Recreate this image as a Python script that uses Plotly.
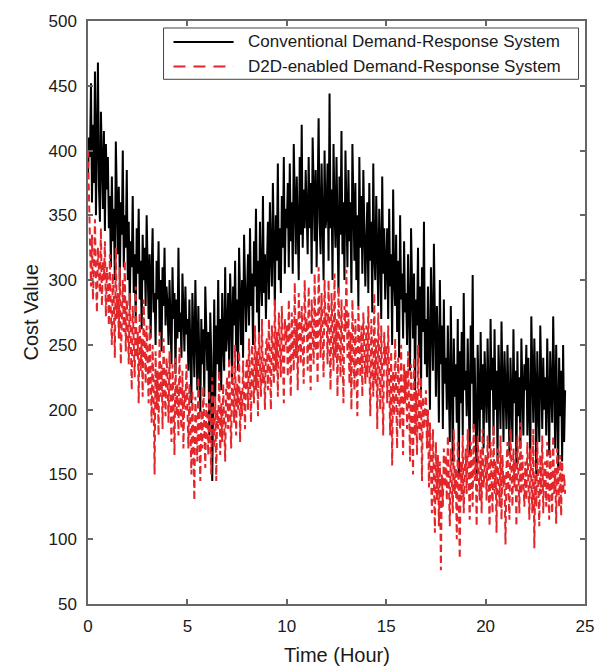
import plotly.graph_objects as go

# Cost values sampled every 0.05 hour from 0 to 24 h (20 samples per hour)
conventional_cost = [
    380, 410, 395, 452, 360, 420, 375, 461, 350, 400, 468, 372, 345, 430, 390, 355, 415, 338, 405, 370,
    395, 340, 365, 310, 380, 330, 355, 300, 407, 345, 320, 372, 295, 360, 335, 400, 310, 350, 325, 385,
    300, 345, 280, 330, 310, 365, 290, 320, 270, 340, 305, 355, 285, 315, 262, 335, 300, 325, 280, 350,
    295, 270, 320, 255, 305, 340, 275, 290, 250, 315, 285, 330, 260, 300, 245, 310, 280, 325, 265, 295,
    280, 250, 300, 265, 235, 310, 270, 290, 228, 285, 255, 325, 260, 275, 240, 305, 265, 245, 295, 258,
    270, 230, 285, 245, 205, 290, 255, 225, 300, 240, 215, 280, 250, 198, 270, 235, 262, 210, 295, 245,
    230, 260, 180, 275, 240, 145, 250, 285, 210, 265, 235, 300, 225, 270, 215, 290, 250, 230, 310, 245,
    260, 290, 235, 305, 275, 220, 295, 265, 315, 245, 285, 230, 325, 270, 250, 300, 240, 335, 280, 260,
    290, 320, 265, 340, 280, 305, 250, 330, 295, 355, 275, 315, 260, 345, 300, 280, 365, 290, 320, 270,
    310, 345, 285, 360, 320, 295, 375, 330, 280, 350, 315, 390, 300, 340, 290, 365, 325, 395, 305, 355,
    340, 375, 310, 390, 330, 360, 305, 405, 345, 320, 380, 350, 300, 395, 335, 420, 325, 370, 340, 385,
    360, 320, 395, 340, 375, 305, 410, 350, 330, 385, 310, 365, 425, 345, 320, 390, 355, 300, 400, 340,
    350, 390, 315, 444, 340, 370, 300, 405, 355, 325, 395, 345, 290, 380, 335, 415, 320, 360, 300, 400,
    345, 310, 385, 330, 360, 290, 405, 340, 315, 375, 300, 350, 280, 395, 325, 365, 305, 385, 335, 295,
    330, 360, 290, 375, 315, 345, 275, 390, 320, 300, 365, 310, 280, 355, 325, 270, 380, 305, 340, 285,
    310, 340, 270, 355, 295, 320, 250, 370, 300, 280, 335, 260, 315, 240, 350, 285, 305, 255, 330, 275,
    290, 250, 320, 270, 230, 340, 280, 255, 305, 215, 285, 265, 325, 240, 295, 210, 310, 260, 345, 235,
    270, 225, 295, 245, 200, 310, 255, 230, 328, 240, 210, 280, 250, 190, 300, 235, 265, 185, 285, 220,
    240, 200, 265, 215, 175, 280, 225, 160, 255, 210, 235, 190, 270, 148, 245, 205, 260, 180, 290, 215,
    230, 195, 255, 210, 165, 265, 220, 304, 185, 240, 205, 145, 250, 215, 175, 260, 200, 235, 170, 245,
    225, 190, 255, 205, 170, 270, 215, 240, 180, 262, 200, 230, 160, 250, 210, 185, 268, 220, 175, 245,
    220, 185, 250, 200, 165, 240, 215, 175, 262, 205, 230, 155, 245, 195, 225, 170, 255, 210, 180, 235,
    215, 250, 180, 240, 200, 160, 272, 210, 190, 255, 220, 150, 245, 205, 175, 265, 215, 185, 240, 200,
    225, 180, 255, 200, 165, 245, 210, 190, 272, 205, 170, 250, 215, 155, 240, 195, 230, 160, 250, 175,
    215,
]

d2d_cost = [
    400, 360, 320, 295, 335, 285, 310, 347, 300, 275, 325, 305, 290, 340, 280, 315, 300, 330, 272, 310,
    295, 265, 320, 275, 250, 305, 285, 240, 325, 270, 290, 255, 310, 235, 280, 300, 260, 315, 245, 285,
    265, 235, 290, 250, 215, 280, 245, 225, 295, 240, 260, 205, 275, 230, 255, 210, 285, 240, 220, 265,
    240, 205, 265, 225, 190, 250, 215, 150, 245, 200, 230, 180, 260, 210, 235, 185, 255, 220, 195, 240,
    225, 190, 245, 205, 175, 235, 210, 165, 240, 195, 220, 180, 248, 200, 185, 230, 170, 215, 200, 235,
    205, 170, 220, 185, 150, 215, 175, 130, 210, 190, 160, 225, 180, 145, 200, 170, 218, 185, 155, 205,
    195, 165, 215, 180, 150, 225, 190, 170, 210, 145, 200, 185, 230, 165, 205, 175, 220, 190, 160, 215,
    225, 185, 240, 200, 170, 235, 210, 190, 250, 180, 220, 200, 245, 175, 215, 195, 238, 205, 185, 230,
    240, 200, 255, 220, 190, 250, 230, 205, 265, 215, 245, 195, 260, 225, 210, 270, 220, 240, 200, 250,
    255, 215, 270, 235, 200, 265, 245, 220, 285, 230, 260, 210, 275, 240, 225, 280, 235, 205, 270, 250,
    265, 225, 285, 245, 210, 275, 255, 230, 298, 240, 270, 215, 290, 250, 235, 280, 245, 220, 300, 260,
    270, 230, 295, 250, 215, 285, 260, 235, 305, 245, 275, 220, 310, 255, 240, 290, 250, 225, 300, 265,
    275, 235, 300, 250, 215, 290, 255, 230, 305, 240, 270, 210, 295, 250, 225, 285, 245, 205, 280, 260,
    308, 240, 275, 220, 260, 200, 285, 245, 215, 270, 235, 195, 280, 250, 225, 265, 210, 275, 240, 220,
    265, 225, 280, 235, 195, 270, 240, 210, 290, 220, 255, 185, 275, 230, 200, 265, 225, 180, 260, 235,
    250, 205, 265, 220, 180, 245, 157, 230, 195, 255, 210, 170, 240, 215, 185, 250, 200, 165, 235, 205,
    230, 185, 245, 200, 160, 235, 195, 150, 240, 180, 215, 165, 250, 190, 175, 225, 145, 210, 185, 200,
    215, 170, 200, 140, 190, 155, 120, 185, 150, 105, 175, 130, 165, 110, 160, 76, 150, 125, 170, 140,
    165, 130, 180, 145, 110, 170, 140, 120, 185, 135, 155, 100, 175, 140, 85, 160, 130, 180, 120, 150,
    170, 135, 185, 150, 115, 175, 140, 125, 190, 145, 160, 110, 180, 150, 130, 170, 120, 185, 140, 155,
    165, 130, 180, 145, 110, 175, 140, 120, 188, 135, 160, 105, 170, 145, 125, 180, 115, 165, 140, 150,
    96, 155, 175, 135, 115, 185, 145, 125, 170, 140, 160, 110, 180, 150, 120, 190, 135, 165, 145, 125,
    160, 130, 175, 140, 115, 170, 145, 120, 185, 93, 150, 125, 175, 140, 110, 165, 135, 180, 120, 155,
    160, 125, 175, 140, 115, 170, 145, 120, 180, 135, 155, 112, 170, 140, 125, 165, 118, 160, 135, 150,
    135,
]

# sampling times (hours): 0.05 h step
time_conv = [i * 0.05 for i in range(len(conventional_cost))]
time_d2d = [i * 0.05 for i in range(len(d2d_cost))]

series_names = ["Conventional Demand-Response System", "D2D-enabled Demand-Response System"]
x_ticks = [0, 5, 10, 15, 20, 25]
y_ticks = [50, 100, 150, 200, 250, 300, 350, 400, 450, 500]

BLACK = "#000000"
RED = "#e3262a"
AXIS = "#666666"
TEXT = "#1a1a1a"
FONT = "Liberation Sans, Arial, sans-serif"

fig = go.Figure()
fig.add_trace(go.Scatter(x=time_conv, y=conventional_cost, mode="lines",
                         line=dict(color=BLACK, width=2), name=series_names[0],
                         showlegend=False))
fig.add_trace(go.Scatter(x=time_d2d, y=d2d_cost, mode="lines",
                         line=dict(color=RED, width=2, dash="7px,4px"), name=series_names[1],
                         showlegend=False))

axis_common = dict(showgrid=False, zeroline=False, showline=True, linecolor=AXIS, linewidth=1.5,
                   mirror="ticks", ticks="inside", ticklen=5, tickcolor=AXIS, tickwidth=1.5,
                   tickfont=dict(family=FONT, size=17, color=TEXT))
fig.update_xaxes(range=[0, 25], tickvals=x_ticks, ticklabelstandoff=6, **axis_common)
fig.update_yaxes(range=[50, 500], tickvals=y_ticks, ticklabelstandoff=6, **axis_common)

# Manual legend (box, samples, labels)
fig.add_shape(type="rect", xref="paper", yref="paper", x0=0.152, x1=0.987, y0=0.900, y1=0.988,
              line=dict(color="#444444", width=1), fillcolor="white", layer="above")
fig.add_shape(type="line", xref="paper", yref="paper", x0=0.172, x1=0.293, y0=0.964, y1=0.964,
              line=dict(color=BLACK, width=2), layer="above")
fig.add_shape(type="line", xref="paper", yref="paper", x0=0.172, x1=0.293, y0=0.922, y1=0.922,
              line=dict(color=RED, width=2, dash="12px,8px"), layer="above")
for name, yy in zip(series_names, [0.964, 0.922]):
    fig.add_annotation(text=name, xref="paper", yref="paper", x=0.317, y=yy, xanchor="left",
                       yanchor="middle", showarrow=False,
                       font=dict(family=FONT, size=17, color=TEXT))

# Axis titles
fig.add_annotation(text="Time (Hour)", xref="paper", yref="paper", x=0.5, y=0, yshift=-51,
                   xanchor="center", yanchor="middle", showarrow=False,
                   font=dict(family=FONT, size=20, color=TEXT))
fig.add_annotation(text="Cost Value", xref="paper", yref="paper", x=0, y=0.5, xshift=-58,
                   textangle=-90, xanchor="center", yanchor="middle", showarrow=False,
                   font=dict(family=FONT, size=20, color=TEXT))

fig.update_layout(width=606, height=671, margin=dict(l=88, r=21, t=12, b=67),
                  plot_bgcolor="white", paper_bgcolor="white", showlegend=False)

fig.write_html("out.html")
